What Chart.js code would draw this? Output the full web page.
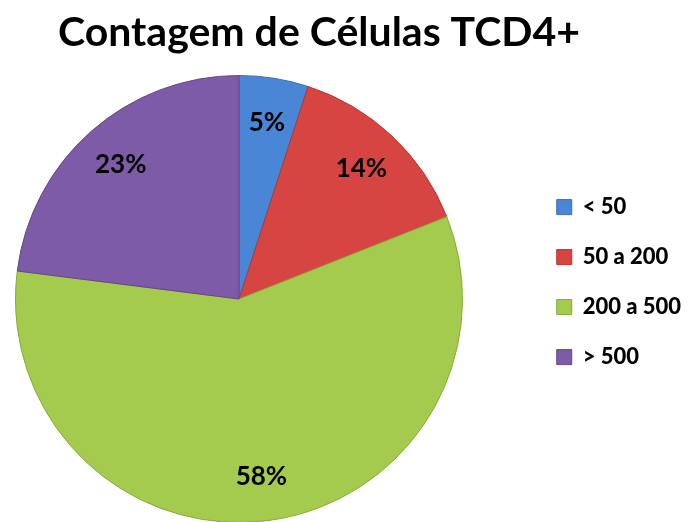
<!DOCTYPE html>
<html>
<head>
<meta charset="utf-8">
<script src="https://cdn.jsdelivr.net/npm/chart.js@4"></script>
<style>
  html, body { margin: 0; padding: 0; background: #fff; }
  #wrap { width: 691px; height: 522px; }
</style>
</head>
<body>
<div id="wrap"><canvas id="cd4Chart"></canvas></div>
<script>
// --- Data ---
const categories = ['< 50', '50 a 200', '200 a 500', '> 500'];
const shares = [5, 14, 58, 23]; // % of patients
const sliceColors = ['#4A86D6', '#D74543', '#A4CA4E', '#7D5BA6'];
const edgeColors = ['#3C6FB4', '#B23633', '#86AB38', '#634889'];

// percentage text inside every slice
const pctLabels = {
    id: 'pctLabels',
    afterDatasetsDraw(chart) {
        const ctx = chart.ctx;
        const total = shares.reduce((a, b) => a + b, 0);
        ctx.save();
        ctx.font = 'bold 26px Lato';
        ctx.fillStyle = '#000';
        ctx.textAlign = 'center';
        ctx.textBaseline = 'middle';
        chart.getDatasetMeta(0).data.forEach((arc, i) => {
            const p = arc.getProps(['x', 'y', 'startAngle', 'endAngle', 'outerRadius'], true);
            const mid = (p.startAngle + p.endAngle) / 2;
            const r = p.outerRadius * 0.8;
            const pct = Math.round(shares[i] / total * 100) + '%';
            ctx.fillText(pct, p.x + Math.cos(mid) * r, p.y + Math.sin(mid) * r);
        });
        ctx.restore();
    }
};

// pie sits to the left, not centred in the space beside the legend
const pieBox = {
    id: 'pieBox',
    afterLayout(chart) {
        const a = chart.chartArea;
        a.left = 15; a.right = 463;
        a.top = 75; a.bottom = 523;
        a.width = a.right - a.left;
        a.height = a.bottom - a.top;
    }
};

new Chart(document.getElementById('cd4Chart'), {
    type: 'pie',
    data: {
        labels: categories,
        datasets: [{
            data: shares,
            backgroundColor: sliceColors,
            borderColor: edgeColors,
            borderWidth: 1
        }]
    },
    options: {
        responsive: true,
        maintainAspectRatio: false,
        animation: false,
        layout: { padding: { left: 58, bottom: 25 } },
        plugins: {
            title: {
                display: true,
                text: 'Contagem de Células TCD4+',
                align: 'start',
                color: '#000',
                font: { family: 'Lato', size: 41, weight: 'bold' },
                padding: { top: 8, bottom: 10 }
            },
            legend: {
                position: 'right',
                fullSize: false,
                labels: {
                    color: '#000',
                    font: { family: 'Lato', size: 22, weight: '900' },
                    boxWidth: 15,
                    boxHeight: 15,
                    padding: 28
                }
            },
            tooltip: { enabled: false }
        }
    },
    plugins: [pieBox, pctLabels]
});
</script>
</body>
</html>
